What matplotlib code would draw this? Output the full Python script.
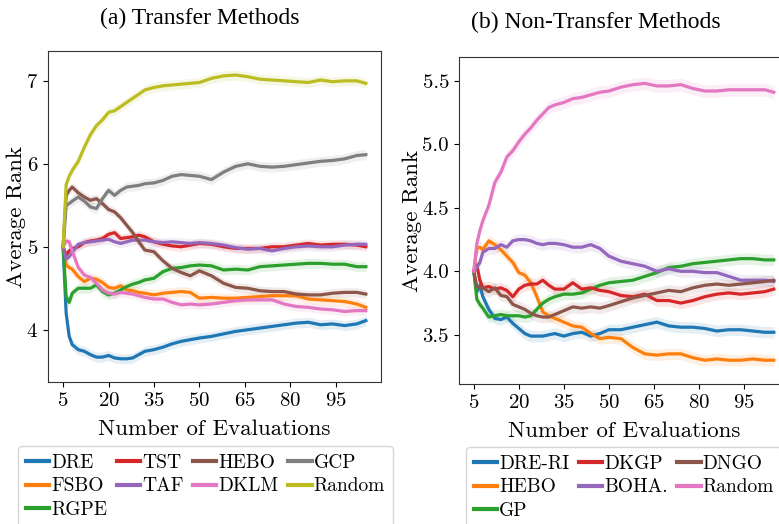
import numpy as np
import matplotlib
matplotlib.use("Agg")
import matplotlib.pyplot as plt

# -----------------------------------------------------------
# DATA
# -----------------------------------------------------------
evals = [5, 6, 7, 8, 10, 12, 14, 16, 18, 20, 22, 24, 26, 28, 30, 32, 35, 38,
         41, 44, 47, 50, 54, 58, 62, 66, 70, 74, 78, 82, 86, 90, 94, 98, 102, 105]

# (a) transfer methods
left_names = ["DRE", "FSBO", "RGPE", "TST", "TAF", "HEBO", "DKLM", "GCP", "Random"]
dre = [5.0, 4.2, 3.92, 3.82, 3.76, 3.74, 3.7, 3.67, 3.67, 3.69, 3.66, 3.65, 3.65, 3.66, 3.7, 3.74, 3.76, 3.79,
       3.83, 3.86, 3.88, 3.9, 3.92, 3.95, 3.98, 4.0, 4.02, 4.04, 4.06, 4.08, 4.09, 4.06, 4.07, 4.05, 4.07, 4.11]
fsbo = [5.0, 4.78, 4.75, 4.73, 4.64, 4.58, 4.62, 4.61, 4.57, 4.51, 4.5, 4.53, 4.48, 4.47, 4.45, 4.44, 4.42, 4.44,
        4.45, 4.46, 4.45, 4.38, 4.39, 4.38, 4.38, 4.39, 4.4, 4.41, 4.41, 4.41, 4.37, 4.36, 4.35, 4.34, 4.31, 4.27]
rgpe = [5.0, 4.4, 4.33, 4.44, 4.5, 4.5, 4.5, 4.54, 4.46, 4.42, 4.44, 4.48, 4.52, 4.55, 4.57, 4.6, 4.62, 4.7,
        4.74, 4.75, 4.77, 4.78, 4.77, 4.72, 4.73, 4.72, 4.76, 4.77, 4.78, 4.79, 4.8, 4.8, 4.79, 4.79, 4.76, 4.76]
tst = [5.0, 4.9, 4.95, 4.98, 5.0, 5.05, 5.07, 5.08, 5.1, 5.15, 5.17, 5.1, 5.11, 5.12, 5.14, 5.12, 5.06, 5.03,
       5.01, 5.0, 5.02, 5.04, 5.03, 5.0, 4.98, 4.98, 4.98, 5.0, 5.0, 5.02, 5.04, 5.02, 5.03, 5.03, 5.02, 5.0]
taf = [5.0, 4.85, 4.88, 4.93, 5.03, 5.05, 5.06, 5.07, 5.08, 5.09, 5.06, 5.04, 5.06, 5.08, 5.08, 5.08, 5.06, 5.05,
       5.06, 5.05, 5.04, 5.05, 5.04, 5.02, 4.99, 4.97, 4.98, 4.95, 4.98, 5.0, 5.01, 5.0, 5.0, 5.02, 5.03, 5.03]
hebo_t = [5.0, 5.62, 5.68, 5.72, 5.65, 5.6, 5.56, 5.58, 5.52, 5.45, 5.42, 5.35, 5.26, 5.17, 5.06, 4.96, 4.94, 4.83,
          4.74, 4.69, 4.65, 4.71, 4.65, 4.56, 4.51, 4.5, 4.47, 4.46, 4.46, 4.43, 4.42, 4.42, 4.44, 4.45, 4.45, 4.43]
dklm = [5.0, 5.07, 5.06, 4.95, 4.75, 4.66, 4.63, 4.56, 4.48, 4.44, 4.43, 4.45, 4.44, 4.43, 4.41, 4.39, 4.37, 4.37,
        4.33, 4.3, 4.31, 4.3, 4.31, 4.33, 4.35, 4.36, 4.36, 4.36, 4.31, 4.28, 4.27, 4.25, 4.24, 4.22, 4.23, 4.23]
gcp = [5.0, 5.5, 5.52, 5.55, 5.6, 5.55, 5.48, 5.46, 5.58, 5.68, 5.62, 5.68, 5.72, 5.73, 5.74, 5.76, 5.77, 5.8,
       5.85, 5.87, 5.86, 5.85, 5.81, 5.9, 5.97, 6.0, 5.97, 5.96, 5.97, 5.99, 6.01, 6.03, 6.04, 6.06, 6.1, 6.11]
rand_t = [5.0, 5.75, 5.85, 5.92, 6.03, 6.2, 6.35, 6.46, 6.53, 6.62, 6.64, 6.69, 6.74, 6.79, 6.84, 6.89, 6.92, 6.94,
          6.95, 6.96, 6.97, 6.98, 7.03, 7.06, 7.07, 7.05, 7.02, 7.01, 7.0, 6.99, 6.98, 7.01, 6.99, 7.0, 7.0, 6.97]
left_std = [0.06, 0.06, 0.06, 0.055, 0.055, 0.055, 0.055, 0.06, 0.06]

# (b) non-transfer methods
right_names = ["DRE-RI", "HEBO", "GP", "DKGP", "BOHA.", "DNGO", "Random"]
dre_ri = [4.0, 3.84, 3.89, 3.8, 3.7, 3.63, 3.62, 3.64, 3.59, 3.55, 3.51, 3.49, 3.49, 3.49, 3.5, 3.51, 3.49, 3.51,
          3.52, 3.49, 3.51, 3.54, 3.54, 3.56, 3.58, 3.6, 3.57, 3.56, 3.56, 3.55, 3.53, 3.54, 3.54, 3.53, 3.52, 3.52]
hebo_n = [4.0, 4.18, 4.19, 4.17, 4.24, 4.21, 4.17, 4.12, 4.07, 3.99, 3.97, 3.91, 3.8, 3.68, 3.65, 3.63, 3.6, 3.57,
          3.56, 3.51, 3.47, 3.48, 3.47, 3.4, 3.35, 3.34, 3.35, 3.35, 3.32, 3.3, 3.31, 3.3, 3.3, 3.31, 3.3, 3.3]
gp = [4.0, 3.78, 3.74, 3.71, 3.64, 3.65, 3.66, 3.65, 3.65, 3.65, 3.64, 3.65, 3.7, 3.75, 3.78, 3.8, 3.82, 3.82,
      3.83, 3.86, 3.89, 3.91, 3.92, 3.93, 3.96, 3.99, 4.03, 4.04, 4.06, 4.07, 4.08, 4.09, 4.1, 4.1, 4.09, 4.09]
dkgp = [4.0, 4.05, 3.93, 3.87, 3.88, 3.86, 3.87, 3.85, 3.8, 3.86, 3.89, 3.9, 3.9, 3.93, 3.89, 3.86, 3.86, 3.91,
        3.86, 3.87, 3.85, 3.84, 3.81, 3.8, 3.82, 3.77, 3.77, 3.75, 3.77, 3.8, 3.82, 3.83, 3.82, 3.83, 3.84, 3.86]
boha = [4.0, 4.03, 4.07, 4.15, 4.18, 4.18, 4.21, 4.19, 4.24, 4.25, 4.25, 4.24, 4.22, 4.21, 4.22, 4.22, 4.21, 4.19,
        4.19, 4.21, 4.18, 4.12, 4.08, 4.06, 4.04, 4.0, 4.02, 4.0, 4.0, 3.99, 3.99, 3.96, 3.93, 3.93, 3.93, 3.92]
dngo = [4.0, 3.88, 3.87, 3.87, 3.84, 3.87, 3.81, 3.8, 3.74, 3.72, 3.7, 3.67, 3.65, 3.64, 3.64, 3.66, 3.69, 3.72,
        3.71, 3.72, 3.71, 3.73, 3.76, 3.79, 3.81, 3.83, 3.85, 3.84, 3.87, 3.89, 3.9, 3.89, 3.9, 3.91, 3.92, 3.93]
rand_n = [4.0, 4.22, 4.32, 4.4, 4.52, 4.7, 4.78, 4.9, 4.95, 5.02, 5.08, 5.13, 5.19, 5.24, 5.29, 5.31, 5.33, 5.36,
          5.37, 5.39, 5.41, 5.42, 5.45, 5.47, 5.48, 5.46, 5.46, 5.47, 5.44, 5.42, 5.42, 5.43, 5.43, 5.43, 5.43, 5.41]
right_std = [0.045, 0.045, 0.045, 0.045, 0.045, 0.045, 0.05]

left_series = [dre, fsbo, rgpe, tst, taf, hebo_t, dklm, gcp, rand_t]
right_series = [dre_ri, hebo_n, gp, dkgp, boha, dngo, rand_n]

# -----------------------------------------------------------
# STYLE
# -----------------------------------------------------------
plt.rcParams["font.family"] = "cmr10"
plt.rcParams["mathtext.fontset"] = "cm"
plt.rcParams["axes.formatter.use_mathtext"] = True
plt.rcParams["axes.unicode_minus"] = False

colors = plt.get_cmap("tab10").colors


def draw_panel(ax, names, series, stds):
    x = np.array(evals)
    for i, (name, ys, sd) in enumerate(zip(names, series, stds)):
        ys = np.array(ys)
        # spread is zero at the first evaluation (all tied)
        band = np.where(x == x[0], 0.0, sd)
        ax.fill_between(x, ys - band, ys + band, color=colors[i], alpha=0.12, lw=0)
        ax.plot(x, ys, color=colors[i], lw=2.3, label=name)
    ax.set_xlim(0, 110)
    ax.set_xticks([5, 20, 35, 50, 65, 80, 95])
    ax.tick_params(labelsize=15, length=3.5, width=0.8)
    ax.set_xlabel("Number of Evaluations", fontsize=16.5, labelpad=7)
    ax.set_ylabel("Average Rank", fontsize=16.5, labelpad=0)
    for s in ax.spines.values():
        s.set_color("#333333")


fig = plt.figure(figsize=(7.79, 5.24), dpi=100)

ax1 = fig.add_axes([0.0616, 0.271, 0.4275, 0.6317])
draw_panel(ax1, left_names, left_series, left_std)
ax1.set_ylim(3.37, 7.36)
ax1.set_yticks([4, 5, 6, 7])

ax2 = fig.add_axes([0.589, 0.267, 0.4236, 0.624])
draw_panel(ax2, right_names, right_series, right_std)
ax2.set_ylim(3.112, 5.687)
ax2.set_yticks([3.5, 4.0, 4.5, 5.0, 5.5])
ax2.set_yticklabels(["3.5", "4.0", "4.5", "5.0", "5.5"])

fig.text(0.257, 0.965, "(a) Transfer Methods", family="Liberation Serif",
         fontsize=17, ha="center", va="center")
fig.text(0.765, 0.957, "(b) Non-Transfer Methods", family="Liberation Serif",
         fontsize=17, ha="center", va="center")

leg_kw = dict(loc="upper left", fontsize=14, handlelength=1.2, handletextpad=0.1,
              columnspacing=0.5, labelspacing=0.3, borderaxespad=0,
              frameon=True, fancybox=True, edgecolor="#cccccc")
leg1 = ax1.legend(ncol=4, bbox_to_anchor=(0.023, 0.149),
                  bbox_transform=fig.transFigure, **leg_kw)
leg2 = ax2.legend(ncol=3, bbox_to_anchor=(0.598, 0.147),
                  bbox_transform=fig.transFigure, **leg_kw)
for leg in (leg1, leg2):
    for h in leg.get_lines():
        h.set_linewidth(3)

fig.savefig("out.png", dpi=100)
